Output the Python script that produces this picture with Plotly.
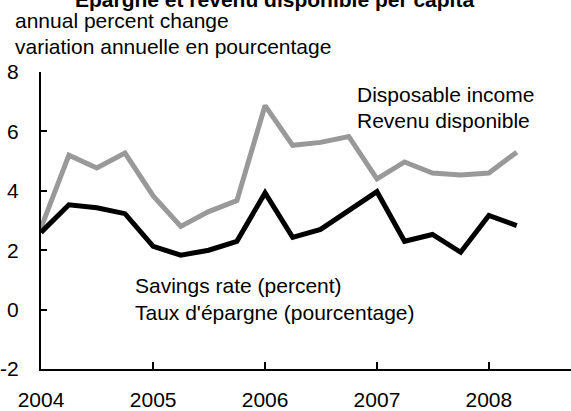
import plotly.graph_objects as go

# Trimestres (2004T1 - 2008T2)
trimestres = ["2004-01-01", "2004-04-01", "2004-07-01", "2004-10-01",
              "2005-01-01", "2005-04-01", "2005-07-01", "2005-10-01",
              "2006-01-01", "2006-04-01", "2006-07-01", "2006-10-01",
              "2007-01-01", "2007-04-01", "2007-07-01", "2007-10-01",
              "2008-01-01", "2008-04-01"]

revenu_disponible = [2.75, 5.2, 4.77, 5.27, 3.83, 2.8, 3.3, 3.67, 6.87,
                     5.53, 5.63, 5.83, 4.4, 4.97, 4.6, 4.53, 4.6, 5.3]
taux_epargne = [2.6, 3.53, 3.43, 3.23, 2.13, 1.83, 2.0, 2.3, 3.93,
                2.43, 2.7, 3.33, 3.97, 2.3, 2.53, 1.93, 3.17, 2.83]

annees = ["2004", "2005", "2006", "2007", "2008"]
graduations_y = [-2, 0, 2, 4, 6, 8]
etiquettes_y = ["-2", "0", "2", "4", "6", "8"]
police = "Arial, Liberation Sans, sans-serif"

fig = go.Figure()
fig.add_trace(go.Scatter(x=trimestres, y=revenu_disponible, mode="lines",
                         line=dict(color="#999999", width=5)))
fig.add_trace(go.Scatter(x=trimestres, y=taux_epargne, mode="lines",
                         line=dict(color="black", width=5)))

# Textes
fig.add_annotation(text="<b>Épargne et revenu disponible per capita</b>",
                   xref="paper", yref="paper", x=0.4415, y=1.2,
                   xanchor="center", yanchor="bottom", showarrow=False)
fig.add_annotation(text="annual percent change", xref="paper", yref="paper",
                   x=-0.0534, y=1.1733, xanchor="left", yanchor="middle",
                   showarrow=False)
fig.add_annotation(text="variation annuelle en pourcentage", xref="paper", yref="paper",
                   x=-0.0534, y=1.0867, xanchor="left", yanchor="middle",
                   showarrow=False)
fig.add_annotation(text="Disposable income", xref="paper", yref="paper",
                   x=0.5925, y=0.9233, xanchor="left", yanchor="middle", showarrow=False)
fig.add_annotation(text="Revenu disponible", xref="paper", yref="paper",
                   x=0.5925, y=0.8367, xanchor="left", yanchor="middle", showarrow=False)
fig.add_annotation(text="Savings rate (percent)", xref="paper", yref="paper",
                   x=0.1736, y=0.28, xanchor="left", yanchor="middle", showarrow=False)
fig.add_annotation(text="Taux d'épargne (pourcentage)", xref="paper", yref="paper",
                   x=0.1736, y=0.19, xanchor="left", yanchor="middle", showarrow=False)

fig.update_layout(
    width=571, height=411,
    margin=dict(l=41, r=0, t=72, b=39),
    paper_bgcolor="white", plot_bgcolor="white",
    showlegend=False,
    font=dict(family=police, size=21, color="black"),
)
fig.update_xaxes(type="date", range=["2004-01-01", "2008-09-25"],
                 tickvals=[a + "-01-01" for a in annees], ticktext=annees,
                 showgrid=False, zeroline=False,
                 showline=True, linecolor="black", linewidth=2,
                 ticks="inside", ticklen=7, tickwidth=2, tickcolor="black",
                 ticklabelstandoff=11)
fig.update_yaxes(range=[-2, 8], tickvals=graduations_y, ticktext=etiquettes_y,
                 showgrid=False, zeroline=False,
                 showline=True, linecolor="black", linewidth=2,
                 ticks="inside", ticklen=6, tickwidth=2, tickcolor="black",
                 ticklabelstandoff=16)

# pas de marge autour de la page
fig.write_html("out.html", config={"displayModeBar": False},
               post_script="document.body.style.margin='0';")
